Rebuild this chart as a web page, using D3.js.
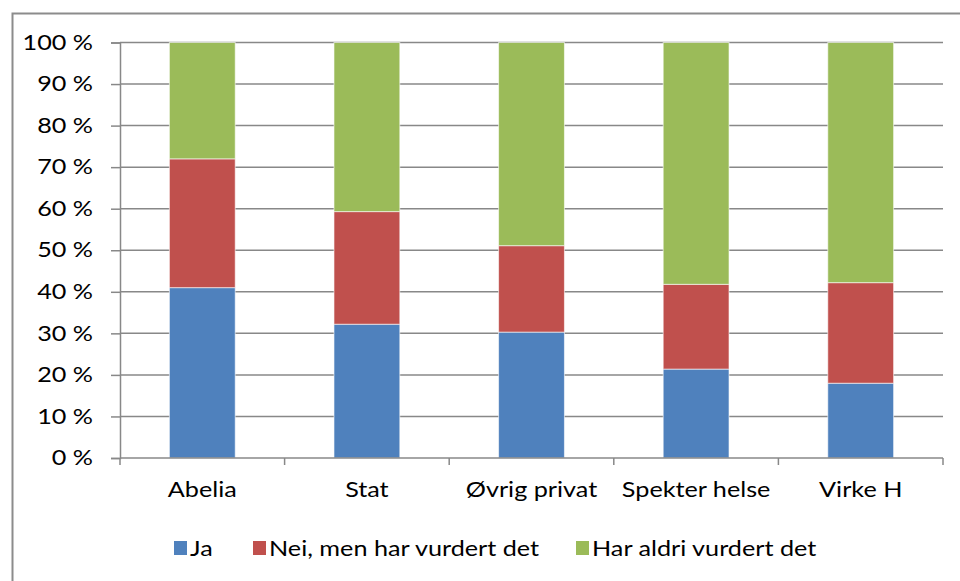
<!DOCTYPE html>
<html>
<head>
<meta charset="utf-8">
<script src="https://cdn.jsdelivr.net/npm/d3@7"></script>
<style>
  body { margin: 0; background: #fff; }
  text { font-family: Lato, "Open Sans", sans-serif; fill: #000; }
</style>
</head>
<body>
<svg id="chart"></svg>
<script>
// data (percent of each group)
var categories = ["Abelia", "Stat", "Øvrig privat", "Spekter helse", "Virke H"];
var seriesNames = ["Ja", "Nei, men har vurdert det", "Har aldri vurdert det"];
var ja = [41.0, 32.2, 30.3, 21.4, 18.0];
var nei = [31.0, 27.1, 20.8, 20.4, 24.2];
var aldri = [28.0, 40.7, 48.9, 58.2, 57.8];
var yTicks = [0, 10, 20, 30, 40, 50, 60, 70, 80, 90, 100];

var colors = ["#4F81BD", "#C0504D", "#9BBB59"];
var w = 960, h = 581;
var plotLeft = 120, plotRight = 943, plotTop = 42.5, plotBottom = 458;
var stretch = "scale(1.2,1)"; // the reference text is a little wide

var svg = d3.select("#chart").attr("width", w).attr("height", h);

// outer chart frame
svg.append("rect")
  .attr("x", 12.5).attr("y", 13.5)
  .attr("width", w).attr("height", h)
  .attr("fill", "none")
  .attr("stroke", "#8c8c8c")
  .attr("stroke-width", 2);

var x = d3.scaleBand().domain(categories).range([plotLeft, plotRight]).paddingInner(0.6).paddingOuter(0.3);
var xOuter = d3.scaleBand().domain(categories).range([plotLeft, plotRight]);
var y = d3.scaleLinear().domain([0, 100]).range([plotBottom, plotTop]);

// gridlines
svg.append("g")
  .selectAll("line")
  .data(yTicks.slice(1))
  .enter()
  .append("line")
  .attr("x1", plotLeft).attr("x2", plotRight)
  .attr("y1", function(d) { return y(d); })
  .attr("y2", function(d) { return y(d); })
  .attr("stroke", "#888")
  .attr("stroke-width", 1.5);

// stacked bars
var rows = categories.map(function(c, i) {
  return { cat: c, s0: ja[i], s1: nei[i], s2: aldri[i] };
});
var stack = d3.stack().keys(["s0", "s1", "s2"]);
var layers = stack(rows);

svg.append("g")
  .selectAll("g")
  .data(layers)
  .enter()
  .append("g")
  .attr("fill", function(d, i) { return colors[i]; })
  .selectAll("rect")
  .data(function(d) { return d; })
  .enter()
  .append("rect")
  .attr("x", function(d) { return x(d.data.cat); })
  .attr("width", x.bandwidth())
  .attr("y", function(d) { return y(d[1]); })
  .attr("height", function(d) { return y(d[0]) - y(d[1]); })
  .attr("stroke", "rgba(255,255,255,0.6)")
  .attr("stroke-width", 1);

// y axis
var yAxis = svg.append("g")
  .attr("transform", "translate(" + plotLeft + ",0)")
  .call(d3.axisLeft(y).tickValues(yTicks).tickSize(9)
    .tickFormat(function(d) { return d + " %"; }));
yAxis.select(".domain").attr("stroke", "#888").attr("stroke-width", 1.5);
yAxis.selectAll(".tick line").attr("stroke", "#888").attr("stroke-width", 1.5);
yAxis.selectAll("text")
  .attr("x", 0)
  .attr("transform", "translate(-27,0) " + stretch)
  .attr("font-size", 21).attr("fill", "#000");

// x axis
var xAxis = svg.append("g")
  .attr("transform", "translate(0," + plotBottom + ")")
  .call(d3.axisBottom(x).tickSize(0).tickPadding(24));
xAxis.select(".domain").remove();
xAxis.append("line")
  .attr("x1", plotLeft).attr("x2", plotRight)
  .attr("stroke", "#888").attr("stroke-width", 1.5);
xAxis.selectAll(".xt")
  .data(categories.concat([null]))
  .enter()
  .append("line")
  .attr("class", "xt")
  .attr("x1", function(d) { return d === null ? plotRight : xOuter(d); })
  .attr("x2", function(d) { return d === null ? plotRight : xOuter(d); })
  .attr("y1", 0).attr("y2", 7)
  .attr("stroke", "#888").attr("stroke-width", 1.5);
xAxis.selectAll(".tick text")
  .attr("transform", stretch)
  .attr("font-size", 21).attr("fill", "#000");

// legend
var legendX = [174, 253, 576];
var legend = svg.append("g")
  .selectAll("g")
  .data(seriesNames)
  .enter()
  .append("g")
  .attr("transform", function(d, i) { return "translate(" + legendX[i] + ",541)"; });
legend.append("rect")
  .attr("width", 13).attr("height", 14)
  .attr("fill", function(d, i) { return colors[i]; });
legend.append("text")
  .attr("transform", "translate(16,15) " + stretch)
  .attr("font-size", 21)
  .text(function(d) { return d; });
</script>
</body>
</html>
